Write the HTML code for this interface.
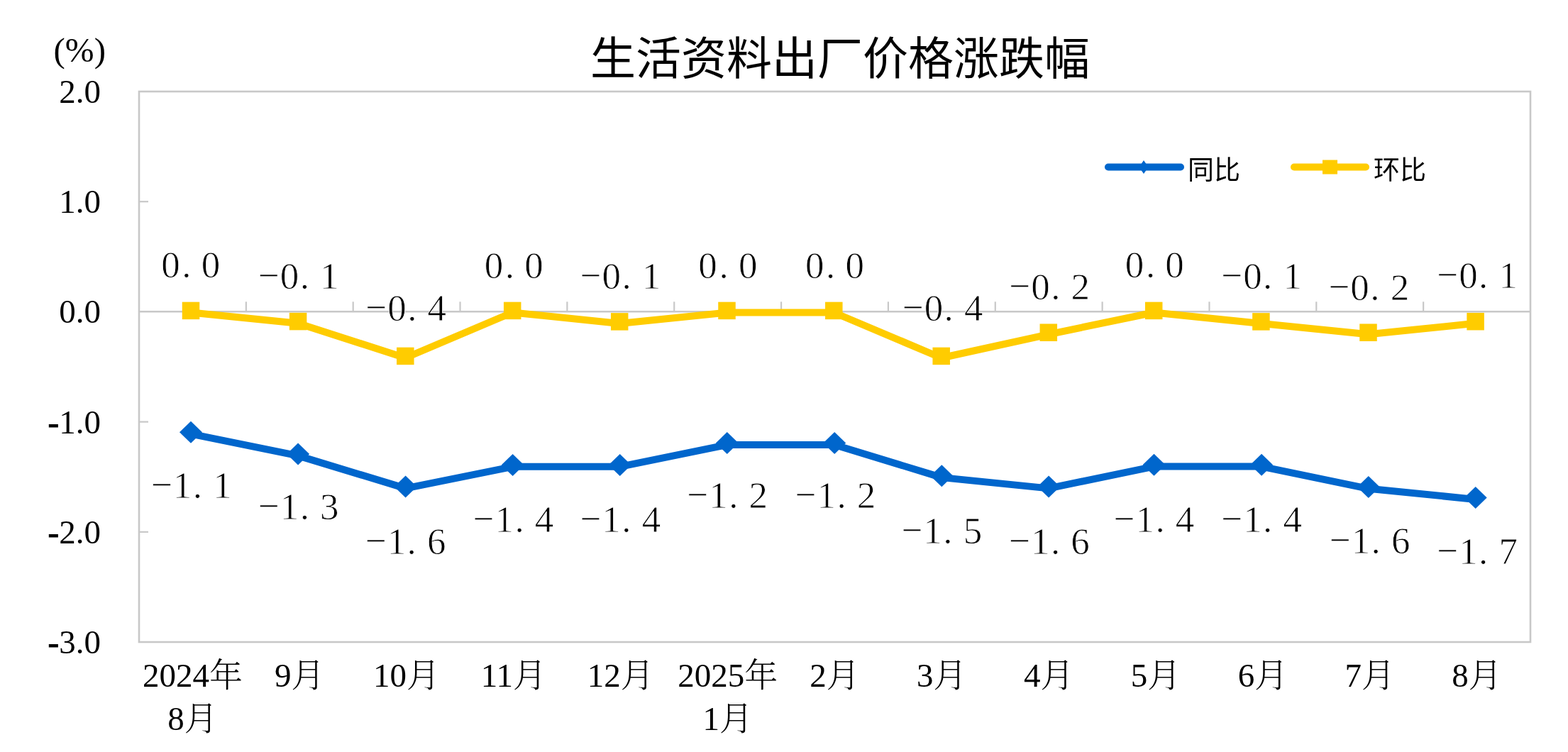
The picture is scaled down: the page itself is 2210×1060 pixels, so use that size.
<!DOCTYPE html>
<html lang="zh-CN"><head><meta charset="utf-8"><title>生活资料出厂价格涨跌幅</title>
<style>html,body{margin:0;padding:0;background:#fff;}body{width:2210px;height:1060px;overflow:hidden;}svg{display:block;}
.dl text{stroke:#fff;stroke-width:0.8px;}.dl text.mn{stroke:#fff;stroke-width:0.6px;}</style>
</head><body>
<svg width="2210" height="1060" viewBox="0 0 2210 1060"><rect x="0" y="0" width="2210" height="1060" fill="#fff"/><rect x="196" y="129" width="1961" height="776" fill="none" stroke="#c8c8c8" stroke-width="2.6"/><line x1="196" y1="284.20" x2="209" y2="284.20" stroke="#c8c8c8" stroke-width="2.2"/><line x1="196" y1="594.60" x2="209" y2="594.60" stroke="#c8c8c8" stroke-width="2.2"/><line x1="196" y1="749.80" x2="209" y2="749.80" stroke="#c8c8c8" stroke-width="2.2"/><line x1="196" y1="439.30" x2="2157" y2="439.30" stroke="#c8c8c8" stroke-width="2.6"/><line x1="346.85" y1="439.30" x2="346.85" y2="425.30" stroke="#c8c8c8" stroke-width="2.2"/><line x1="497.69" y1="439.30" x2="497.69" y2="425.30" stroke="#c8c8c8" stroke-width="2.2"/><line x1="648.54" y1="439.30" x2="648.54" y2="425.30" stroke="#c8c8c8" stroke-width="2.2"/><line x1="799.38" y1="439.30" x2="799.38" y2="425.30" stroke="#c8c8c8" stroke-width="2.2"/><line x1="950.23" y1="439.30" x2="950.23" y2="425.30" stroke="#c8c8c8" stroke-width="2.2"/><line x1="1101.08" y1="439.30" x2="1101.08" y2="425.30" stroke="#c8c8c8" stroke-width="2.2"/><line x1="1251.92" y1="439.30" x2="1251.92" y2="425.30" stroke="#c8c8c8" stroke-width="2.2"/><line x1="1402.77" y1="439.30" x2="1402.77" y2="425.30" stroke="#c8c8c8" stroke-width="2.2"/><line x1="1553.62" y1="439.30" x2="1553.62" y2="425.30" stroke="#c8c8c8" stroke-width="2.2"/><line x1="1704.46" y1="439.30" x2="1704.46" y2="425.30" stroke="#c8c8c8" stroke-width="2.2"/><line x1="1855.31" y1="439.30" x2="1855.31" y2="425.30" stroke="#c8c8c8" stroke-width="2.2"/><line x1="2006.15" y1="439.30" x2="2006.15" y2="425.30" stroke="#c8c8c8" stroke-width="2.2"/><text x="142" y="145.00" text-anchor="end" font-family="'Liberation Serif', 'Noto Serif CJK SC', serif" font-size="47" fill="#000">2.0</text><text x="142" y="300.20" text-anchor="end" font-family="'Liberation Serif', 'Noto Serif CJK SC', serif" font-size="47" fill="#000">1.0</text><text x="142" y="455.40" text-anchor="end" font-family="'Liberation Serif', 'Noto Serif CJK SC', serif" font-size="47" fill="#000">0.0</text><text x="142" y="610.60" text-anchor="end" font-family="'Liberation Serif', 'Noto Serif CJK SC', serif" font-size="47" fill="#000"><tspan stroke="#000" stroke-width="0.9">-</tspan>1.0</text><text x="142" y="765.80" text-anchor="end" font-family="'Liberation Serif', 'Noto Serif CJK SC', serif" font-size="47" fill="#000"><tspan stroke="#000" stroke-width="0.9">-</tspan>2.0</text><text x="142" y="921.00" text-anchor="end" font-family="'Liberation Serif', 'Noto Serif CJK SC', serif" font-size="47" fill="#000"><tspan stroke="#000" stroke-width="0.9">-</tspan>3.0</text><text x="75.5" y="86.6" font-family="'Liberation Serif', 'Noto Serif CJK SC', serif" font-size="49" fill="#000">(%)</text><text x="1184" y="105" text-anchor="middle" font-family="'Liberation Sans', 'Noto Sans CJK SC', sans-serif" font-size="64" fill="#000">生活资料出厂价格涨跌幅</text><polyline points="269.00,440.50 420.10,455.70 571.30,504.50 722.20,440.50 873.20,456.00 1024.50,440.50 1175.30,440.50 1326.70,504.50 1477.80,471.30 1626.20,440.50 1777.40,456.00 1928.50,471.30 2079.60,455.80" fill="none" stroke="#ffcc00" stroke-width="10" stroke-linejoin="round" stroke-linecap="round"/><rect x="256.75" y="425.65" width="24.5" height="24.5" fill="#ffcc00"/><rect x="407.85" y="440.85" width="24.5" height="24.5" fill="#ffcc00"/><rect x="559.05" y="489.65" width="24.5" height="24.5" fill="#ffcc00"/><rect x="709.95" y="425.65" width="24.5" height="24.5" fill="#ffcc00"/><rect x="860.95" y="441.15" width="24.5" height="24.5" fill="#ffcc00"/><rect x="1012.25" y="425.65" width="24.5" height="24.5" fill="#ffcc00"/><rect x="1163.05" y="425.65" width="24.5" height="24.5" fill="#ffcc00"/><rect x="1314.45" y="489.65" width="24.5" height="24.5" fill="#ffcc00"/><rect x="1465.55" y="456.45" width="24.5" height="24.5" fill="#ffcc00"/><rect x="1613.95" y="425.65" width="24.5" height="24.5" fill="#ffcc00"/><rect x="1765.15" y="441.15" width="24.5" height="24.5" fill="#ffcc00"/><rect x="1916.25" y="456.45" width="24.5" height="24.5" fill="#ffcc00"/><rect x="2067.35" y="440.95" width="24.5" height="24.5" fill="#ffcc00"/><polyline points="269.00,611.60 420.10,642.40 571.60,688.40 722.60,657.80 873.70,657.80 1024.80,627.00 1176.20,627.00 1327.30,673.10 1478.10,688.40 1626.50,657.60 1778.10,657.60 1928.80,688.80 2079.70,703.90" fill="none" stroke="#0066cc" stroke-width="10" stroke-linejoin="round" stroke-linecap="round"/><polygon points="253.00,609.20 269.00,593.70 285.00,609.20 269.00,624.70" fill="#0066cc"/><polygon points="404.10,640.00 420.10,624.50 436.10,640.00 420.10,655.50" fill="#0066cc"/><polygon points="555.60,686.00 571.60,670.50 587.60,686.00 571.60,701.50" fill="#0066cc"/><polygon points="706.60,655.40 722.60,639.90 738.60,655.40 722.60,670.90" fill="#0066cc"/><polygon points="857.70,655.40 873.70,639.90 889.70,655.40 873.70,670.90" fill="#0066cc"/><polygon points="1008.80,624.60 1024.80,609.10 1040.80,624.60 1024.80,640.10" fill="#0066cc"/><polygon points="1160.20,624.60 1176.20,609.10 1192.20,624.60 1176.20,640.10" fill="#0066cc"/><polygon points="1311.30,670.70 1327.30,655.20 1343.30,670.70 1327.30,686.20" fill="#0066cc"/><polygon points="1462.10,686.00 1478.10,670.50 1494.10,686.00 1478.10,701.50" fill="#0066cc"/><polygon points="1610.50,655.20 1626.50,639.70 1642.50,655.20 1626.50,670.70" fill="#0066cc"/><polygon points="1762.10,655.20 1778.10,639.70 1794.10,655.20 1778.10,670.70" fill="#0066cc"/><polygon points="1912.80,686.40 1928.80,670.90 1944.80,686.40 1928.80,701.90" fill="#0066cc"/><polygon points="2063.70,701.50 2079.70,686.00 2095.70,701.50 2079.70,717.00" fill="#0066cc"/><g class="dl" text-anchor="middle" font-family="'Liberation Serif', 'Noto Serif CJK SC', serif" font-size="53" fill="#000"><text x="240.40" y="391.20">0</text><text x="262.90" y="391.20">.</text><text x="297.00" y="391.20">0</text><text class="mn" x="379.00" y="405.50">−</text><text x="408.00" y="406.60">0</text><text x="429.30" y="406.60">.</text><text x="464.30" y="406.60">1</text><text class="mn" x="530.50" y="451.30">−</text><text x="559.50" y="452.40">0</text><text x="580.80" y="452.40">.</text><text x="615.80" y="452.40">4</text><text x="695.90" y="391.70">0</text><text x="718.40" y="391.70">.</text><text x="752.50" y="391.70">0</text><text class="mn" x="832.80" y="405.80">−</text><text x="861.80" y="406.90">0</text><text x="883.10" y="406.90">.</text><text x="918.10" y="406.90">1</text><text x="997.60" y="391.70">0</text><text x="1020.10" y="391.70">.</text><text x="1054.20" y="391.70">0</text><text x="1148.20" y="391.70">0</text><text x="1170.70" y="391.70">.</text><text x="1204.80" y="391.70">0</text><text class="mn" x="1286.90" y="451.20">−</text><text x="1315.90" y="452.30">0</text><text x="1337.20" y="452.30">.</text><text x="1372.20" y="452.30">4</text><text class="mn" x="1437.50" y="420.80">−</text><text x="1466.50" y="421.90">0</text><text x="1487.80" y="421.90">.</text><text x="1522.80" y="421.90">2</text><text x="1599.00" y="391.20">0</text><text x="1621.50" y="391.20">.</text><text x="1655.60" y="391.20">0</text><text class="mn" x="1736.40" y="405.80">−</text><text x="1765.40" y="406.90">0</text><text x="1786.70" y="406.90">.</text><text x="1821.70" y="406.90">1</text><text class="mn" x="1887.60" y="421.50">−</text><text x="1916.60" y="422.60">0</text><text x="1937.90" y="422.60">.</text><text x="1972.90" y="422.60">2</text><text class="mn" x="2040.40" y="405.10">−</text><text x="2069.40" y="406.20">0</text><text x="2090.70" y="406.20">.</text><text x="2125.70" y="406.20">1</text><text class="mn" x="228.10" y="700.70">−</text><text x="257.10" y="701.80">1</text><text x="278.40" y="701.80">.</text><text x="313.40" y="701.80">1</text><text class="mn" x="379.00" y="730.90">−</text><text x="408.00" y="732.00">1</text><text x="429.30" y="732.00">.</text><text x="464.30" y="732.00">3</text><text class="mn" x="529.90" y="779.80">−</text><text x="558.90" y="780.90">1</text><text x="580.20" y="780.90">.</text><text x="615.20" y="780.90">6</text><text class="mn" x="681.70" y="748.70">−</text><text x="710.70" y="749.80">1</text><text x="732.00" y="749.80">.</text><text x="767.00" y="749.80">4</text><text class="mn" x="832.60" y="748.70">−</text><text x="861.60" y="749.80">1</text><text x="882.90" y="749.80">.</text><text x="917.90" y="749.80">4</text><text class="mn" x="983.50" y="715.10">−</text><text x="1012.50" y="716.20">1</text><text x="1033.80" y="716.20">.</text><text x="1068.80" y="716.20">2</text><text class="mn" x="1135.70" y="715.10">−</text><text x="1164.70" y="716.20">1</text><text x="1186.00" y="716.20">.</text><text x="1221.00" y="716.20">2</text><text class="mn" x="1285.60" y="764.50">−</text><text x="1314.60" y="765.60">1</text><text x="1335.90" y="765.60">.</text><text x="1370.90" y="765.60">5</text><text class="mn" x="1437.20" y="779.50">−</text><text x="1466.20" y="780.60">1</text><text x="1487.50" y="780.60">.</text><text x="1522.50" y="780.60">6</text><text class="mn" x="1584.80" y="748.70">−</text><text x="1613.80" y="749.80">1</text><text x="1635.10" y="749.80">.</text><text x="1670.10" y="749.80">4</text><text class="mn" x="1736.40" y="748.70">−</text><text x="1765.40" y="749.80">1</text><text x="1786.70" y="749.80">.</text><text x="1821.70" y="749.80">4</text><text class="mn" x="1888.90" y="779.30">−</text><text x="1917.90" y="780.40">1</text><text x="1939.20" y="780.40">.</text><text x="1974.20" y="780.40">6</text><text class="mn" x="2040.40" y="794.10">−</text><text x="2069.40" y="795.20">1</text><text x="2090.70" y="795.20">.</text><text x="2125.70" y="795.20">7</text></g><text x="271.42" y="968.00" text-anchor="middle" font-family="'Liberation Serif', 'Noto Serif CJK SC', serif" font-size="47" font-weight="300" fill="#000">2024年</text><text x="271.42" y="1029.00" text-anchor="middle" font-family="'Liberation Serif', 'Noto Serif CJK SC', serif" font-size="47" font-weight="300" fill="#000">8月</text><text x="422.27" y="968.00" text-anchor="middle" font-family="'Liberation Serif', 'Noto Serif CJK SC', serif" font-size="47" font-weight="300" fill="#000">9月</text><text x="573.12" y="968.00" text-anchor="middle" font-family="'Liberation Serif', 'Noto Serif CJK SC', serif" font-size="47" font-weight="300" fill="#000">10月</text><text x="723.96" y="968.00" text-anchor="middle" font-family="'Liberation Serif', 'Noto Serif CJK SC', serif" font-size="47" font-weight="300" fill="#000">11月</text><text x="874.81" y="968.00" text-anchor="middle" font-family="'Liberation Serif', 'Noto Serif CJK SC', serif" font-size="47" font-weight="300" fill="#000">12月</text><text x="1025.65" y="968.00" text-anchor="middle" font-family="'Liberation Serif', 'Noto Serif CJK SC', serif" font-size="47" font-weight="300" fill="#000">2025年</text><text x="1025.65" y="1029.00" text-anchor="middle" font-family="'Liberation Serif', 'Noto Serif CJK SC', serif" font-size="47" font-weight="300" fill="#000">1月</text><text x="1176.50" y="968.00" text-anchor="middle" font-family="'Liberation Serif', 'Noto Serif CJK SC', serif" font-size="47" font-weight="300" fill="#000">2月</text><text x="1327.35" y="968.00" text-anchor="middle" font-family="'Liberation Serif', 'Noto Serif CJK SC', serif" font-size="47" font-weight="300" fill="#000">3月</text><text x="1478.19" y="968.00" text-anchor="middle" font-family="'Liberation Serif', 'Noto Serif CJK SC', serif" font-size="47" font-weight="300" fill="#000">4月</text><text x="1629.04" y="968.00" text-anchor="middle" font-family="'Liberation Serif', 'Noto Serif CJK SC', serif" font-size="47" font-weight="300" fill="#000">5月</text><text x="1779.88" y="968.00" text-anchor="middle" font-family="'Liberation Serif', 'Noto Serif CJK SC', serif" font-size="47" font-weight="300" fill="#000">6月</text><text x="1930.73" y="968.00" text-anchor="middle" font-family="'Liberation Serif', 'Noto Serif CJK SC', serif" font-size="47" font-weight="300" fill="#000">7月</text><text x="2081.58" y="968.00" text-anchor="middle" font-family="'Liberation Serif', 'Noto Serif CJK SC', serif" font-size="47" font-weight="300" fill="#000">8月</text><line x1="1562" y1="235.5" x2="1664" y2="235.5" stroke="#0066cc" stroke-width="10" stroke-linecap="round"/><polygon points="1605.5,235.5 1612,226 1618.5,235.5 1612,245" fill="#0066cc"/><text x="1674" y="252.5" font-family="'Liberation Sans', 'Noto Sans CJK SC', sans-serif" font-size="37" fill="#000">同比</text><line x1="1824" y1="235.5" x2="1925" y2="235.5" stroke="#ffcc00" stroke-width="10" stroke-linecap="round"/><rect x="1864" y="225.5" width="21" height="20" fill="#ffcc00"/><text x="1936" y="252.5" font-family="'Liberation Sans', 'Noto Sans CJK SC', sans-serif" font-size="37" fill="#000">环比</text></svg>
</body></html>
